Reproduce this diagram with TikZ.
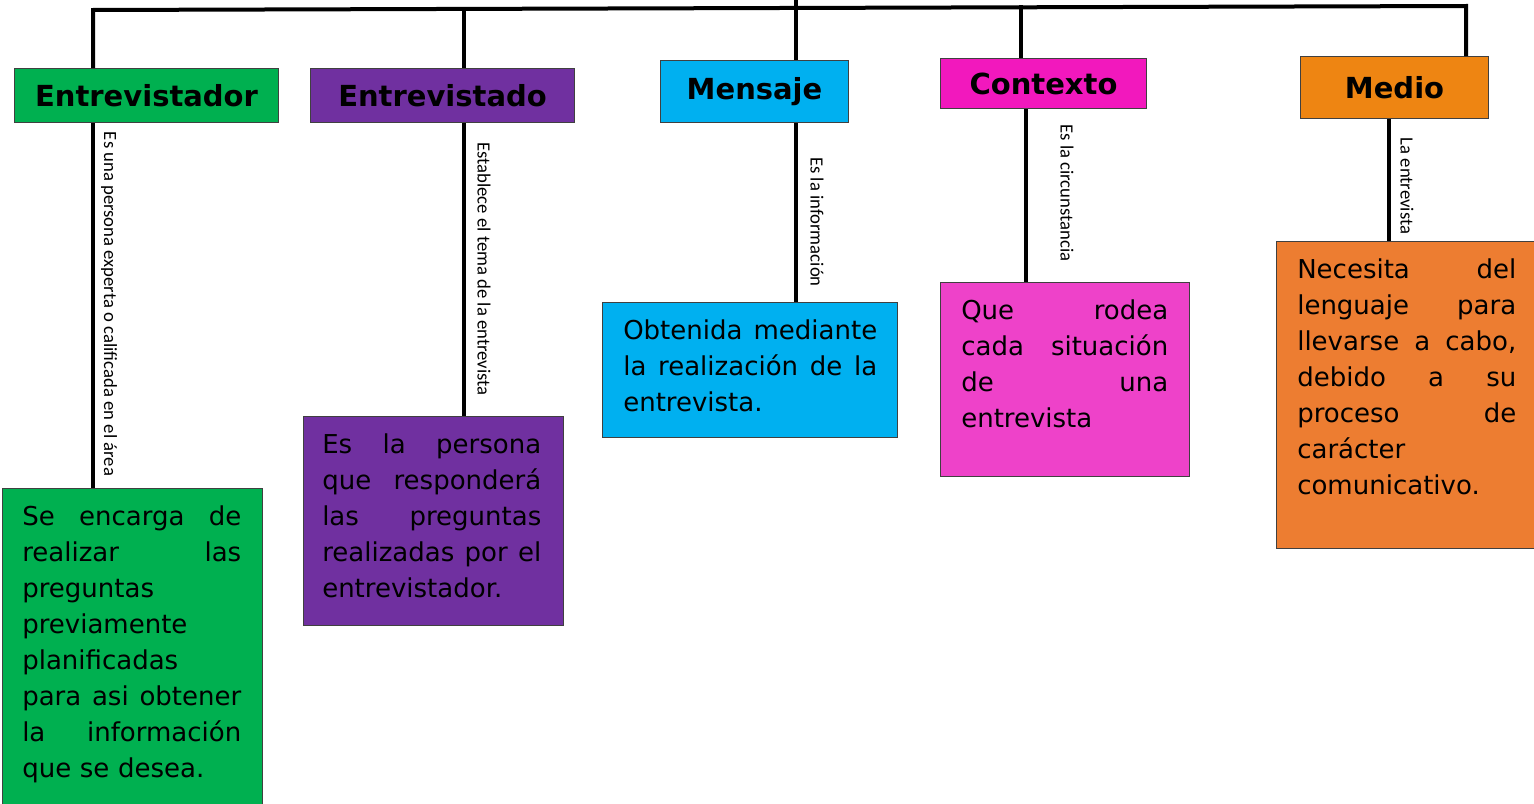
\documentclass[tikz,border=0pt]{standalone}
\usepackage{fontspec}
\setmainfont{DejaVu Sans}
\newfontfamily\labfont{Carlito}
\usetikzlibrary{calc}
\definecolor{cgreen}{HTML}{00B050}
\definecolor{cpurple}{HTML}{7030A0}
\definecolor{ccyan}{HTML}{00B0F0}
\definecolor{cmagT}{HTML}{F218BD}
\definecolor{cmagB}{HTML}{EE42C9}
\definecolor{corgT}{HTML}{EE8512}
\definecolor{corgB}{HTML}{ED7D31}
\tikzset{
  conn/.style={line width=3pt, black},
  titlebox/.style={draw=black!75, line width=0.8pt, anchor=north west, inner sep=0pt,
    font=\fontsize{21.75}{26}\selectfont\bfseries},
  bodybox/.style={draw=black!75, line width=0.8pt, anchor=north west, inner sep=0pt},
  bodytext/.style={anchor=north west, inner sep=0pt, align=left,
    font=\fontsize{19.5}{27}\selectfont},
  vlabel/.style={rotate=-90, inner sep=0pt, font=\labfont\fontsize{14}{16}\selectfont},
}
\begin{document}
\begin{tikzpicture}[x=0.75pt,y=-0.75pt]
\useasboundingbox (0,0) rectangle (1534,803);
% title boxes
\node[titlebox, fill=cgreen, minimum width=198pt, minimum height=40.5pt] (t1) at (14,68) {Entrevistador};
\node[titlebox, fill=cpurple, minimum width=198pt, minimum height=40.5pt] (t2) at (310,68) {Entrevistado};
\node[titlebox, fill=ccyan, minimum width=141pt, minimum height=46.5pt] (t3) at (660,60) {Mensaje};
\node[titlebox, fill=cmagT, minimum width=154.5pt, minimum height=37.5pt] (t4) at (940,58) {Contexto};
\node[titlebox, fill=corgT, minimum width=141pt, minimum height=46.5pt] (t5) at (1300,56) {Medio};
% body boxes
\node[bodybox, fill=cgreen, minimum width=195pt, minimum height=241.5pt] (b1) at (2,488) {};
\node[bodybox, fill=cpurple, minimum width=195pt, minimum height=156.75pt] (b2) at (303,416) {};
\node[bodybox, fill=ccyan, minimum width=221.25pt, minimum height=101.25pt] (b3) at (602,302) {};
\node[bodybox, fill=cmagB, minimum width=186.75pt, minimum height=145.5pt] (b4) at (940,282) {};
\node[bodybox, fill=corgB, minimum width=196.5pt, minimum height=230.25pt] (b5) at (1276,241) {};
% body texts
\node[bodytext, text width=164.25pt] (x1) at ($(b1.north west)+(20,12)$)
  {\strut Se\hfill encarga\hfill de\\realizar\hfill las\\preguntas\\previamente\\planificadas\\para\hfill asi\hfill obtener\\la\hfill información\\que se desea.};
\node[bodytext, text width=164.25pt] (x2) at ($(b2.north west)+(19,12)$)
  {\strut Es\hfill la\hfill persona\\que\hfill responderá\\las\hfill preguntas\\realizadas\hfill por\hfill el\\entrevistador.};
\node[bodytext, text width=190.5pt] (x3) at ($(b3.north west)+(21,12)$)
  {\strut Obtenida\hfill mediante\\la\hfill realización\hfill de\hfill la\\entrevista.};
\node[bodytext, text width=155.25pt] (x4) at ($(b4.north west)+(21,12)$)
  {\strut Que\hfill rodea\\cada\hfill situación\\de\hfill una\\entrevista};
\node[bodytext, text width=164.25pt] (x5) at ($(b5.north west)+(21,12)$)
  {\strut Necesita\hfill del\\lenguaje\hfill para\\llevarse\hfill a\hfill cabo,\\debido\hfill a\hfill su\\proceso\hfill de\\carácter\\comunicativo.};
% bar coordinates
\coordinate (hl) at (93,10);
\coordinate (hr) at (1466,6);
\coordinate (j2) at (464,9);
\coordinate (j3) at (796,0);
\coordinate (j4) at (1021,5);
\coordinate (s1) at (93,0);
\coordinate (s2) at (464,0);
\coordinate (s3) at (796,0);
\coordinate (s4) at (1026,0);
\coordinate (s5) at (1389,0);
% connectors
\draw[conn] (hl |- t1.north) -- (hl) -- (hr) -- (hr |- t5.north);
\draw[conn] (j2) -- (j2 |- t2.north);
\draw[conn] (j3) -- (j3 |- t3.north);
\draw[conn] (j4) -- (j4 |- t4.north);
\draw[conn] (s1 |- t1.south) -- (s1 |- b1.north);
\draw[conn] (s2 |- t2.south) -- (s2 |- b2.north);
\draw[conn] (s3 |- t3.south) -- (s3 |- b3.north);
\draw[conn] (s4 |- t4.south) -- (s4 |- b4.north);
\draw[conn] (s5 |- t5.south) -- (s5 |- b5.north);
% rotated labels
\node[vlabel] (l1) at (109,304) {Es una persona experta o calificada en el área};
\node[vlabel] (l2) at (484,269) {Establece el tema de la entrevista};
\node[vlabel] (l3) at (817,222) {Es la información};
\node[vlabel] (l4) at (1067,193) {Es la circunstancia};
\node[vlabel] (l5) at (1407,186) {La entrevista};
\end{tikzpicture}
\end{document}
